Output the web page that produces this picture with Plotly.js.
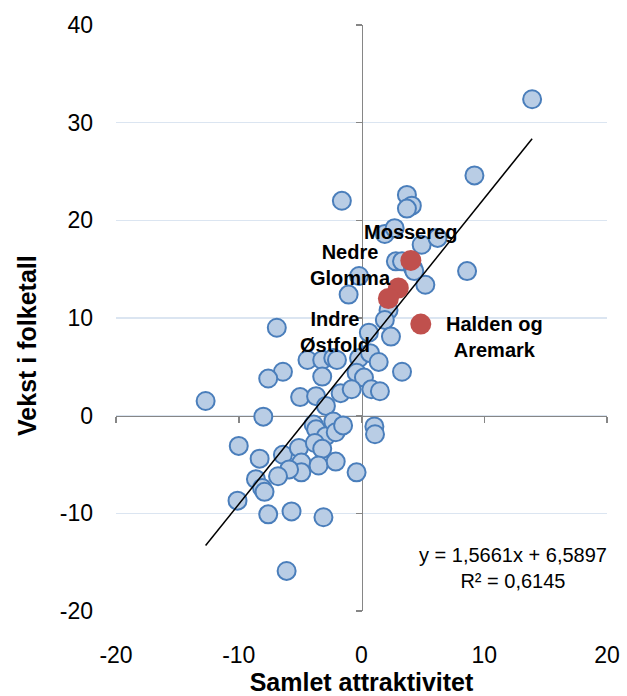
<!DOCTYPE html>
<html><head><meta charset="utf-8">
<script src="https://cdn.plot.ly/plotly-3.0.1.min.js"></script>
<style>html,body{margin:0;padding:0;background:#fff}#chart{width:627px;height:696px}</style>
</head><body><div id="chart"></div>
<script>
// Blue points: municipalities/regions (Samlet attraktivitet, Vekst i folketall)
const blueX = [13.9, 9.2, -1.6, 3.7, 4.1, 3.7, 1.9, 2.7, 4.9, 6.2, 2.8, 3.3, 4.2, 4.3, 8.6, 5.2, -0.2, -1.05, 2.2, 1.9, 0.6, 2.4, -6.9, -0.2, 0.7, 1.4, -4.4, -3.2, -2.3, -2.0, -6.4, -7.6, -3.2, -0.4, 0.2, 3.3, -12.7, -5.0, -3.7, -1.7, -0.8, 0.8, 1.5, -2.9,
  -8.0, -10.0, -8.3, -6.4, -5.1, -3.9, -3.7, -2.9, -2.3, -2.1, -1.5, -3.8, -3.2, -4.9, -4.9, -3.5, -2.1, -0.4, -5.9, -6.8, -8.6, -8.1, -7.9, -10.1, -7.6, -5.7, -3.1, -6.1, 1.05, 1.1];
const blueY = [32.4, 24.6, 22.0, 22.6, 21.5, 21.2, 18.6, 19.2, 17.5, 18.2, 15.8, 15.8, 15.1, 14.8, 14.8, 13.4, 14.3, 12.4, 10.8, 9.8, 8.5, 8.1, 9.0, 5.9, 6.4, 5.5, 5.7, 5.7, 5.9, 5.7, 4.5, 3.8, 4.0, 4.4, 3.9, 4.5, 1.5, 1.9, 2.0, 2.3, 2.7, 2.7, 2.5, 1.0,
  -0.1, -3.1, -4.4, -4.0, -3.3, -0.9, -1.4, -2.1, -0.6, -1.7, -1.0, -2.8, -3.4, -4.8, -5.8, -5.1, -4.7, -5.8, -5.5, -6.2, -6.5, -7.4, -7.8, -8.7, -10.1, -9.8, -10.4, -15.9, -1.1, -1.9];

// Highlighted regions
const redNames = ['Mossereg', 'Nedre<br>Glomma', 'Indre<br>Østfold', 'Halden og<br>Aremark'];
const redX = [4.02, 3.0, 2.19, 4.83];
const redY = [15.9, 13.07, 12.0, 9.38];

// Linear trend (as shown in the chart)
const slope = 1.5661, intercept = 6.5897, rSquared = 0.6145;

const xTicks = [-20, -10, 0, 10, 20];
const yTicks = [-20, -10, 0, 10, 20, 30, 40];
const xTitle = 'Samlet attraktivitet';
const yTitle = 'Vekst i folketall';

const allX = blueX.concat(redX);
const xMin = Math.min(...allX), xMax = Math.max(...allX);
const trendX = [xMin, xMax];
const trendY = trendX.map(v => slope * v + intercept);
const fmt = v => v.toFixed(4).replace('.', ',');
const eqText = 'y = ' + fmt(slope) + 'x + ' + fmt(intercept) + '<br>R² = ' + fmt(rSquared);

const FONT = 'Liberation Sans, Arial, sans-serif';
const xRange = [xTicks[0], xTicks[xTicks.length - 1]];
const yRange = [yTicks[0], yTicks[yTicks.length - 1]];

const traces = [
  {x: blueX, y: blueY, type: 'scatter', mode: 'markers', hoverinfo: 'x+y',
   marker: {size: 18, color: '#b9cde5', line: {color: '#4a7ebb', width: 2}}},
  {x: trendX, y: trendY, type: 'scatter', mode: 'lines', hoverinfo: 'skip',
   line: {color: '#000000', width: 1.5}},
  {x: redX, y: redY, type: 'scatter', mode: 'markers', text: redNames, hoverinfo: 'text',
   marker: {size: 21, color: '#c0504d', line: {color: '#c0504d', width: 0}}},
  {x: [], y: [], xaxis: 'x2', yaxis: 'y2', type: 'scatter', mode: 'markers', hoverinfo: 'skip'}
];

const labelShift = [[0, 28], [-48, 23], [-53, -34], [74, -13]];
const annotations = redNames.map((n, i) => ({
  x: redX[i], y: redY[i], xref: 'x', yref: 'y', text: '<b>' + n + '</b>', showarrow: false,
  xanchor: 'center', yanchor: 'middle',
  xshift: labelShift[i][0], yshift: labelShift[i][1], align: 'center',
  font: {family: FONT, size: 20, color: '#000'}
}));
annotations.push({
  xref: 'paper', yref: 'paper', x: 0.8086, y: 0.0734, xanchor: 'center', yanchor: 'middle',
  text: eqText, showarrow: false,
  align: 'center', font: {family: FONT, size: 20, color: '#000'}
});
annotations.push({
  xref: 'paper', yref: 'paper', x: -0.1813, y: 0.454, xanchor: 'center', yanchor: 'middle',
  text: '<b>' + yTitle + '</b>', showarrow: false,
  textangle: -90, font: {family: FONT, size: 25, color: '#000'}
});

const layout = {
  width: 627, height: 696,
  margin: {l: 116, r: 20, t: 25, b: 85},
  paper_bgcolor: '#fff', plot_bgcolor: '#fff',
  showlegend: false,
  font: {family: FONT, color: '#000'},
  xaxis: {
    range: xRange, tickvals: xTicks, ticktext: xTicks.map(String),
    showgrid: false, zeroline: false, showline: false, ticks: '',
    ticklabelstandoff: 28, tickfont: {family: FONT, size: 23, color: '#000'},
    title: {text: '<b>' + xTitle + '</b>', font: {family: FONT, size: 25, color: '#000'}, standoff: 4},
    automargin: false
  },
  yaxis: {
    range: yRange, tickvals: yTicks, ticktext: yTicks.map(String),
    showgrid: true, gridcolor: '#dbe5f1', gridwidth: 1.5, zeroline: false, showline: false, ticks: '',
    ticklabelstandoff: 22, tickfont: {family: FONT, size: 23, color: '#000'},
    automargin: false
  },
  xaxis2: {
    overlaying: 'x', anchor: 'free', position: (0 - yRange[0]) / (yRange[1] - yRange[0]),
    range: xRange, tickvals: xTicks, showticklabels: false, showgrid: false, zeroline: false,
    showline: true, linecolor: '#868686', linewidth: 1.5,
    ticks: 'outside', ticklen: 6, tickwidth: 1.5, tickcolor: '#868686', layer: 'below traces'
  },
  yaxis2: {
    overlaying: 'y', anchor: 'free', position: (0 - xRange[0]) / (xRange[1] - xRange[0]), side: 'left',
    range: yRange, tickvals: yTicks, showticklabels: false, showgrid: false, zeroline: false,
    showline: true, linecolor: '#868686', linewidth: 1.5,
    ticks: 'outside', ticklen: 6, tickwidth: 1.5, tickcolor: '#868686', layer: 'below traces'
  },
  annotations: annotations
};

Plotly.newPlot('chart', traces, layout, {displayModeBar: false, staticPlot: true});
</script>
</body></html>
